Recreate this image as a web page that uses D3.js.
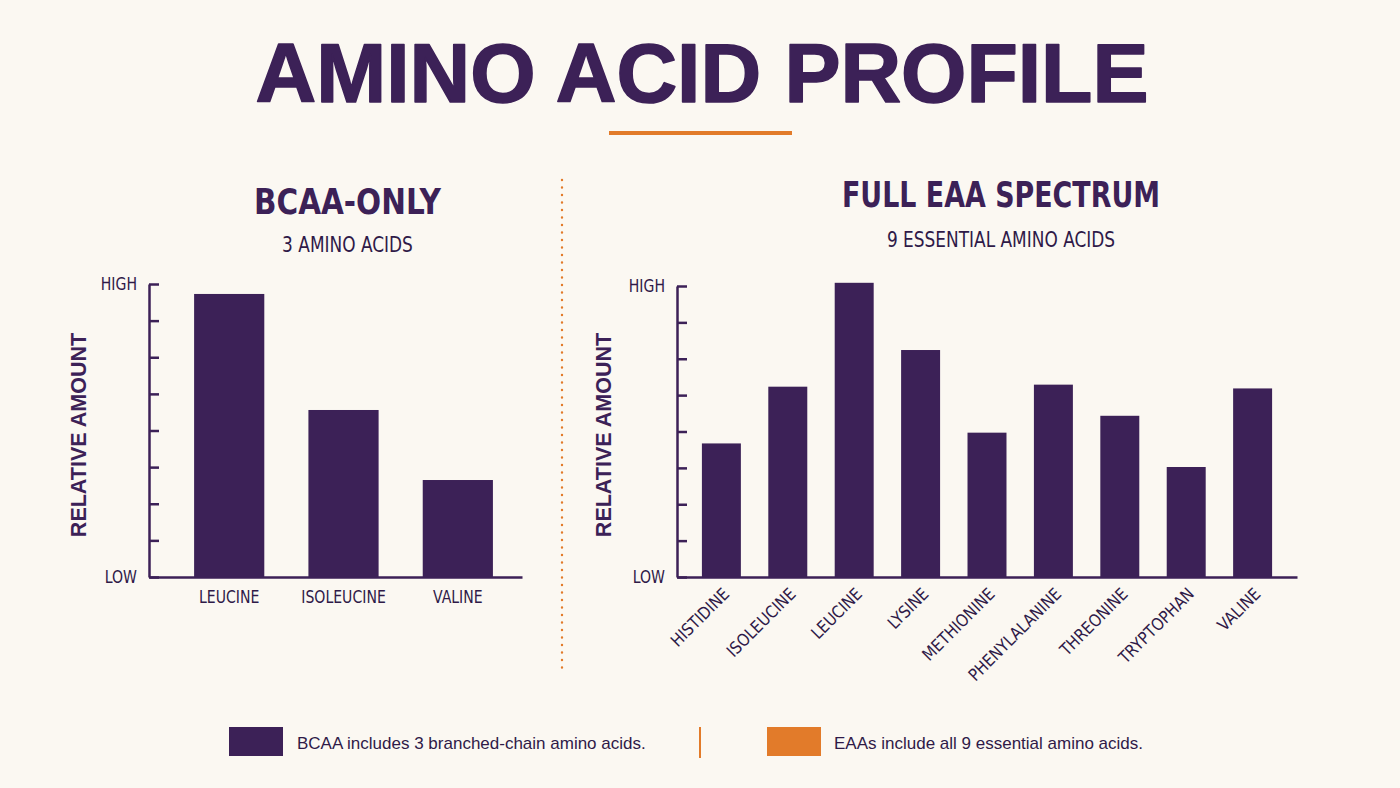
<!DOCTYPE html>
<html>
<head>
<meta charset="utf-8">
<script src="https://cdn.jsdelivr.net/npm/d3@7"></script>
<style>
  html, body { margin: 0; padding: 0; background: #fbf8f2; }
  svg { display: block; }
</style>
</head>
<body>
<svg id="chart" width="1400" height="788"></svg>
<script>
// ---------- DATA ----------
const bcaaNames = ["LEUCINE", "ISOLEUCINE", "VALINE"];
const bcaaValues = [0.966, 0.57, 0.331];

const eaaNames = ["HISTIDINE", "ISOLEUCINE", "LEUCINE", "LYSINE", "METHIONINE",
                  "PHENYLALANINE", "THREONINE", "TRYPTOPHAN", "VALINE"];
const eaaValues = [0.459, 0.654, 1.011, 0.78, 0.496, 0.661, 0.554, 0.378, 0.648];

const yTickValues = [0, 0.125, 0.25, 0.375, 0.5, 0.625, 0.75, 0.875, 1];
const yTickLabels = { 0: "LOW", 1: "HIGH" };

const titleText = "AMINO ACID PROFILE";
const panelTitles = ["BCAA-ONLY", "FULL EAA SPECTRUM"];
const panelSubtitles = ["3 AMINO ACIDS", "9 ESSENTIAL AMINO ACIDS"];
const yAxisTitle = "RELATIVE AMOUNT";
const legendLabels = ["BCAA includes 3 branched-chain amino acids.",
                      "EAAs include all 9 essential amino acids."];

// ---------- STYLE ----------
const PURPLE = "#3c2157";
const TEXT = "#2f1a48";
const ORANGE = "#e27b2a";
const NARROW = "'Liberation Sans Narrow', 'Arial Narrow', 'DejaVu Sans Condensed', sans-serif";
const SANS = "'Liberation Sans', Arial, sans-serif";
const SQUEEZE = 0.92;

const svg = d3.select("#chart");

// Title
svg.append("text")
  .attr("x", 702).attr("y", 102)
  .attr("text-anchor", "middle")
  .attr("font-family", SANS).attr("font-weight", "bold")
  .attr("font-size", 84)
  .attr("fill", PURPLE).attr("stroke", PURPLE).attr("stroke-width", 1.6)
  .attr("stroke-linejoin", "round")
  .text(titleText);

svg.append("rect")
  .attr("x", 609).attr("y", 131).attr("width", 183).attr("height", 4)
  .attr("fill", ORANGE);

// Divider
svg.append("line")
  .attr("x1", 562).attr("x2", 562).attr("y1", 180).attr("y2", 668)
  .attr("stroke", ORANGE).attr("stroke-width", 2.4)
  .attr("stroke-linecap", "round").attr("stroke-dasharray", "0 7.5");

function panel(cfg) {
  const g = svg.append("g");

  g.append("text")
    .attr("x", cfg.cx - cfg.titleLen / 2).attr("y", cfg.titleY)
    .attr("textLength", cfg.titleLen).attr("lengthAdjust", "spacingAndGlyphs")
    .attr("font-family", NARROW).attr("font-weight", "bold")
    .attr("font-size", 35).attr("fill", PURPLE)
    .text(cfg.title);

  g.append("text")
    .attr("transform", `translate(${cfg.cx},${cfg.subY}) scale(${SQUEEZE},1)`)
    .attr("text-anchor", "middle")
    .attr("font-family", NARROW)
    .attr("font-size", 20.5).attr("fill", TEXT)
    .text(cfg.subtitle);

  const x = d3.scaleBand()
    .domain(cfg.names)
    .range([cfg.x0, cfg.x1])
    .paddingInner(cfg.pi).paddingOuter(cfg.po).align(cfg.align);

  const y = d3.scaleLinear().domain([0, 1]).range([cfg.base, cfg.top]);

  // bars
  g.selectAll("rect.bar")
    .data(cfg.names.map((n, i) => ({ n, v: cfg.values[i] })))
    .join("rect")
    .attr("class", "bar")
    .attr("x", d => x(d.n))
    .attr("width", x.bandwidth())
    .attr("y", d => y(d.v))
    .attr("height", d => y(0) - y(d.v))
    .attr("fill", PURPLE);

  // y axis
  const yAxis = d3.axisLeft(y)
    .tickValues(yTickValues)
    .tickSize(-10).tickSizeOuter(0).tickPadding(12)
    .tickFormat(d => yTickLabels[d] || "");
  const ya = g.append("g")
    .attr("transform", `translate(${cfg.x0},0)`)
    .call(yAxis);
  ya.selectAll("path, line").attr("stroke", PURPLE).attr("stroke-width", 2.5);
  ya.selectAll("text")
    .attr("font-family", NARROW).attr("font-size", 17).attr("fill", TEXT)
    .attr("x", null)
    .attr("transform", `translate(-12,0) scale(${SQUEEZE},1)`);

  // x axis
  const xa = g.append("g")
    .attr("transform", `translate(0,${cfg.base})`)
    .call(d3.axisBottom(x).tickSize(0).tickSizeOuter(0).tickPadding(14));
  xa.select(".domain").attr("stroke", PURPLE).attr("stroke-width", 2.5);
  xa.selectAll("text")
    .attr("font-family", NARROW).attr("font-size", 17).attr("fill", TEXT);

  if (cfg.rotate) {
    xa.selectAll(".tick text")
      .attr("y", 0).attr("dy", 0)
      .attr("text-anchor", "end")
      .attr("transform", `translate(9,18) rotate(-45) scale(0.97,1)`);
  } else {
    xa.selectAll(".tick text")
      .attr("transform", `scale(${SQUEEZE},1)`);
  }

  // y title
  g.append("text")
    .attr("transform", `translate(${cfg.yTitleX},435) rotate(-90)`)
    .attr("text-anchor", "middle")
    .attr("font-family", SANS).attr("font-weight", "bold")
    .attr("font-size", 21.5).attr("fill", PURPLE)
    .text(yAxisTitle);
}

panel({
  names: bcaaNames, values: bcaaValues,
  title: panelTitles[0], subtitle: panelSubtitles[0], titleLen: 187,
  cx: 347.5, titleY: 214, subY: 252,
  x0: 149, x1: 522, pi: 0.386, po: 0.3245, align: 0.608,
  base: 577, top: 284, yTitleX: 86, rotate: false
});

panel({
  names: eaaNames, values: eaaValues,
  title: panelTitles[1], subtitle: panelSubtitles[1], titleLen: 318,
  cx: 1001, titleY: 207, subY: 247,
  x0: 677, x1: 1297, pi: 0.413, po: 0.375, align: 0.5,
  base: 577, top: 286, yTitleX: 611, rotate: true
});

// Legend
const legend = svg.append("g");
legend.append("rect").attr("x", 229).attr("y", 727).attr("width", 54).attr("height", 29).attr("fill", PURPLE);
legend.append("text").attr("x", 297).attr("y", 749)
  .attr("font-family", SANS).attr("font-size", 17).attr("fill", TEXT).text(legendLabels[0]);
legend.append("line").attr("x1", 700).attr("x2", 700).attr("y1", 727).attr("y2", 758)
  .attr("stroke", ORANGE).attr("stroke-width", 2);
legend.append("rect").attr("x", 767).attr("y", 727).attr("width", 54).attr("height", 29).attr("fill", ORANGE);
legend.append("text").attr("x", 834).attr("y", 749)
  .attr("font-family", SANS).attr("font-size", 17).attr("fill", TEXT).text(legendLabels[1]);
</script>
</body>
</html>
